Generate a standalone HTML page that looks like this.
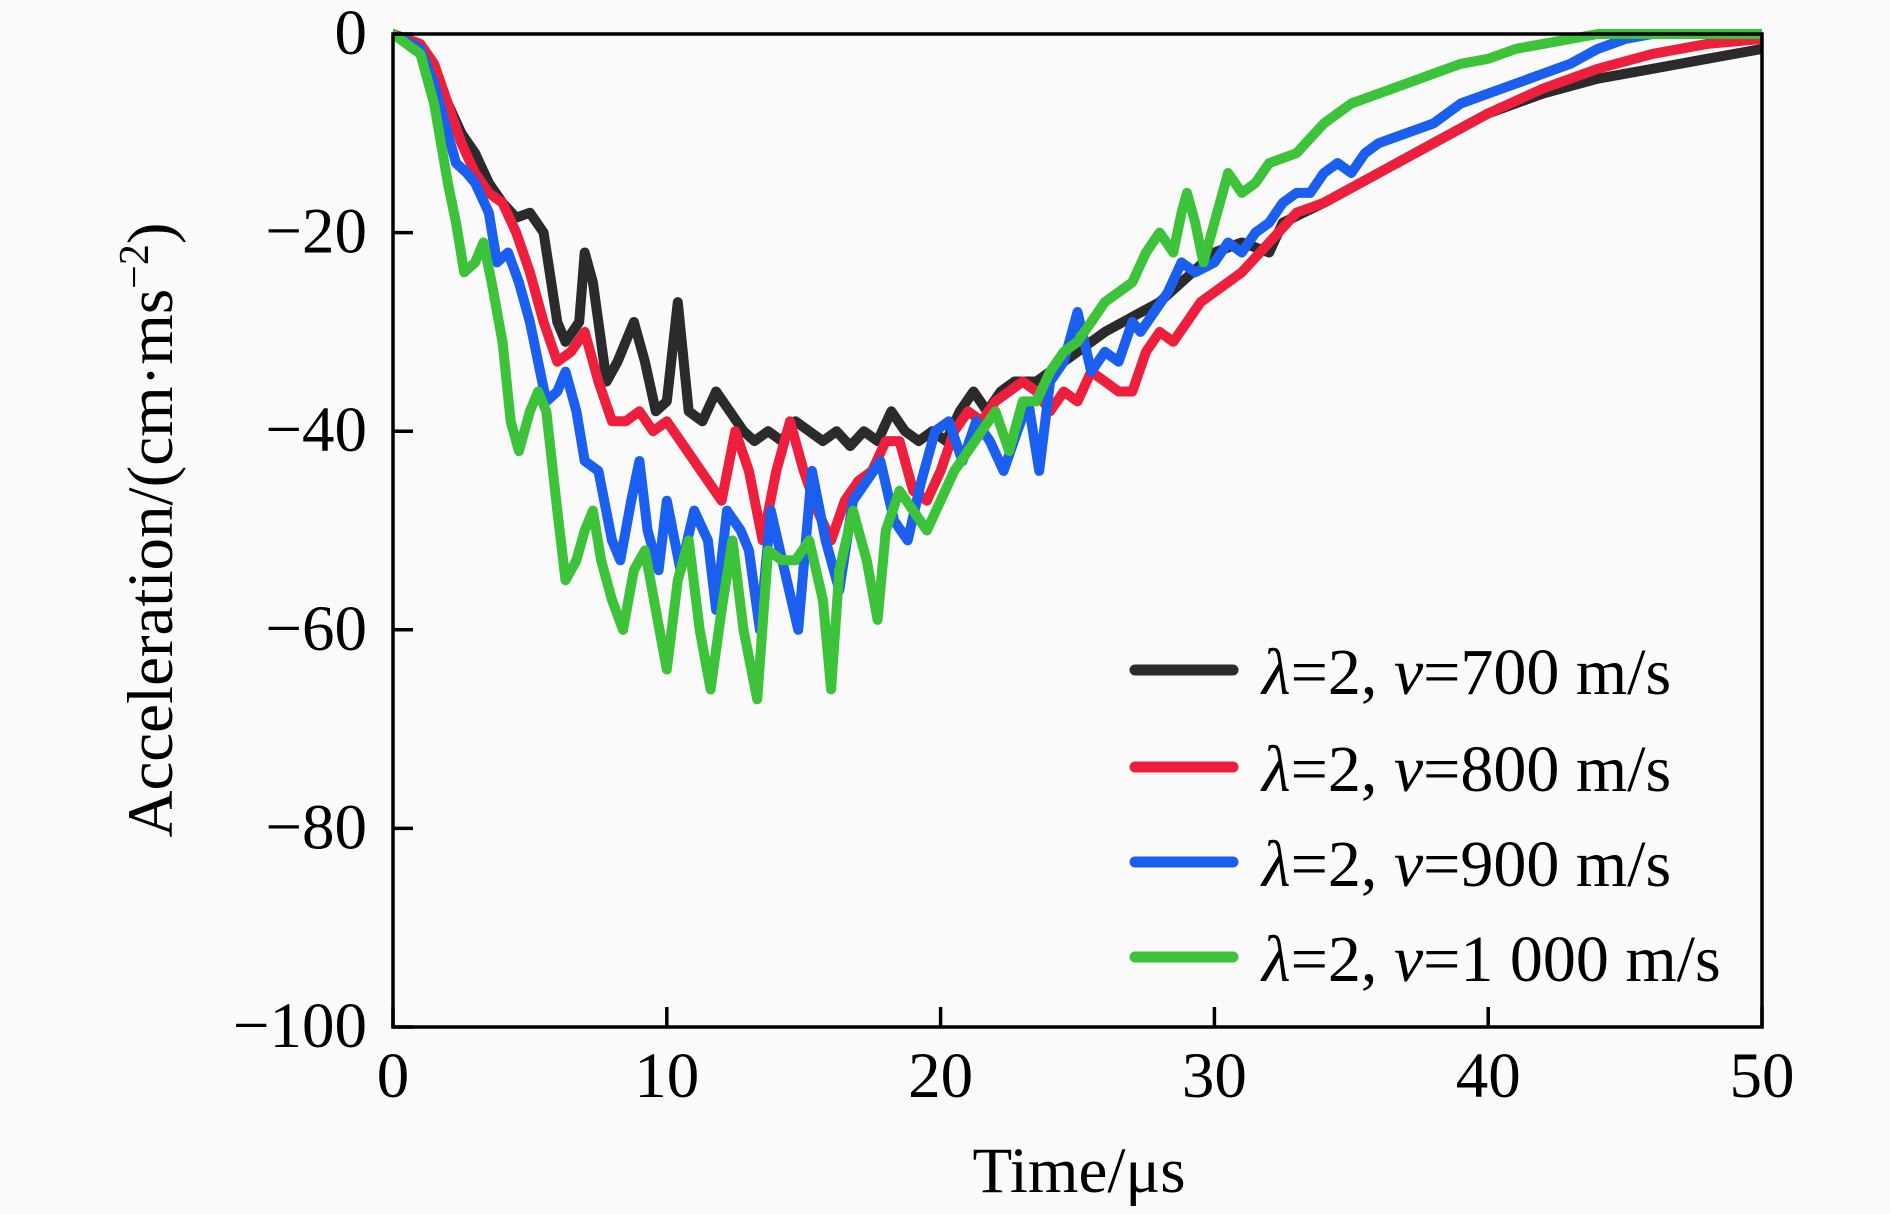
<!DOCTYPE html>
<html><head><meta charset="utf-8"><style>
html,body{margin:0;padding:0;background:#fafafa;}
svg{display:block;font-family:"Liberation Serif",serif;}
</style></head><body>
<svg id="chart" width="1890" height="1214" viewBox="0 0 1890 1214">
<rect x="0" y="0" width="1890" height="1214" fill="#fafafa"/>
<g id="series"></g>
<g id="axes"></g>
<g id="legend"></g>
<text x="1079" y="1192" font-size="65" text-anchor="middle">Time/μs</text>
<text transform="translate(172,530) rotate(-90)" font-size="65" text-anchor="middle">Acceleration/(cm·ms<tspan dy="-24" font-size="42">−2</tspan><tspan dy="24">)</tspan></text>
</svg>
<script>
const xTicks=[0,10,20,30,40,50];
const yTicks=[0,-20,-40,-60,-80,-100];
const seriesNames=["λ=2, v=700 m/s","λ=2, v=800 m/s","λ=2, v=900 m/s","λ=2, v=1 000 m/s"];
const seriesSpeeds=["700","800","900","1 000"];
const seriesColors=["#2b2b2b","#ee1f3c","#1a5ff0","#3cc33a"];
const t700=[0,1,1.5,2,2.5,3,3.5,4,4.5,5,5.5,6,6.3,6.8,7,7.3,7.8,8.2,8.8,9.2,9.6,10,10.4,10.8,11.3,11.8,12.3,12.8,13.2,13.7,14.2,14.7,15.2,15.7,16.2,16.7,17.2,17.7,18.2,18.7,19.2,19.7,20.2,20.7,21.2,21.7,22.2,22.7,23.5,24.5,26,28,30,31,32,32.5,34,36,38,40,42,44,46,48,50];
const a700=[0,-1.5,-4,-7,-10,-12,-15,-17,-18.5,-18,-20,-29,-31,-29,-22,-25,-35,-33,-29,-33,-38,-37,-27,-38,-39,-36,-38,-40,-41,-40,-41,-39,-40,-41,-40,-41.5,-40,-41,-38,-40,-41,-40,-41,-38,-36,-38,-36,-35,-35,-33,-30,-27,-22,-21,-22,-19,-17,-14,-11,-8,-6,-4.5,-3.5,-2.5,-1.5];
const t800=[0,1,1.5,2,2.5,3,3.5,4,4.5,5,5.5,6,6.5,7,7.5,8,8.5,9,9.5,10,10.5,11,11.5,12,12.5,13,13.5,14,14.5,15,15.5,16,16.5,17,17.5,18,18.5,19,19.5,20,20.5,21,21.5,22,22.5,23,23.5,24,24.5,25,25.5,26,26.5,27,27.5,28,28.5,29,29.5,30,31,32,33,34,36,38,40,42,44,46,48,50];
const a800=[0,-1,-3,-7,-11,-14,-16,-17,-20,-24,-29,-33,-32,-30,-35,-39,-39,-38,-40,-39,-41,-43,-45,-47,-40,-44,-51,-44,-39,-44,-48,-51,-47,-45,-44,-41,-41,-46,-47,-44,-40,-38,-39,-37,-36,-35,-36,-38,-36,-37,-34,-35,-36,-36,-32,-30,-31,-29,-27,-26,-24,-21,-18,-17,-14,-11,-8,-5.5,-3.5,-2,-1,-0.5];
const t900=[0,1,1.5,2,2.3,2.7,3,3.5,3.8,4.2,4.6,5,5.3,5.6,6,6.3,6.7,7,7.5,8,8.3,8.7,9,9.3,9.7,10,10.5,11,11.5,11.8,12.2,12.7,13,13.4,13.8,14.3,14.8,15.3,15.8,16.3,16.8,17.3,17.8,18.3,18.8,19.3,19.8,20.3,20.8,21.3,21.8,22.3,22.8,23.2,23.6,24,24.5,25,25.5,26,26.5,27,27.3,27.8,28.3,28.8,29.3,30,30.5,31,31.5,32,32.5,33,33.5,34,34.5,35,35.5,36,37,38,39,40,41,42,43,44,45,46,50];
const a900=[0,-1.5,-5,-10,-13,-14,-15,-18,-23,-22,-25,-29,-33,-37,-36,-34,-38,-43,-44,-51,-53,-47,-43,-50,-54,-47,-54,-48,-51,-58,-48,-50,-52,-60,-48,-54,-60,-44,-51,-56,-47,-45,-43,-49,-51,-45,-40,-39,-43,-39,-41,-44,-40,-37,-44,-35,-33,-28,-34,-32,-33,-29,-30,-28,-26,-23,-24,-23,-21,-22,-20,-19,-17,-16,-16,-14,-13,-14,-12,-11,-10,-9,-7,-6,-5,-4,-3,-1.5,-0.5,0,0];
const t1000=[0,1,1.5,2,2.3,2.6,3,3.3,3.6,4,4.3,4.6,5,5.3,5.6,6,6.3,6.7,7,7.3,7.6,8,8.4,8.8,9.2,9.6,10,10.4,10.8,11.2,11.6,12,12.4,12.8,13.3,13.7,14.2,14.7,15.2,15.7,16,16.3,16.8,17.3,17.7,18,18.5,19,19.5,20,20.5,21,21.5,22,22.5,23,23.5,24,24.5,25,25.5,26,26.5,27,27.5,28,28.5,28.8,29,29.3,29.6,30,30.5,31,31.5,32,33,34,35,36,37,38,39,40,41,42,43,44,50];
const a1000=[0,-2,-7,-15,-19,-24,-23,-21,-25,-31,-39,-42,-38,-36,-38,-48,-55,-53,-50,-48,-53,-57,-60,-54,-52,-58,-64,-55,-51,-60,-66,-58,-51,-60,-67,-52,-53,-53,-51,-57,-66,-54,-48,-53,-59,-50,-46,-48,-50,-47,-44,-42,-40,-38,-42,-37,-37,-34,-32,-31,-29,-27,-26,-25,-22,-20,-22,-18,-16,-19,-23,-19,-14,-16,-15,-13,-12,-9,-7,-6,-5,-4,-3,-2.5,-1.5,-1,-0.5,0,0];
const seriesT=[t700,t800,t900,t1000];
const seriesA=[a700,a800,a900,a1000];

const L=393,R=1762,T=34,B=1027;
const xMin=0,xMax=50,yMin=-100,yMax=0;
function sx(v){return L+(v-xMin)/(xMax-xMin)*(R-L);}
function sy(v){return T+(yMax-v)/(yMax-yMin)*(B-T);}
const NS="http://www.w3.org/2000/svg";
function mk(tag,attrs,parent){const e=document.createElementNS(NS,tag);for(const k in attrs)e.setAttribute(k,attrs[k]);parent.appendChild(e);return e;}
const gS=document.getElementById('series'),gA=document.getElementById('axes'),gL=document.getElementById('legend');
const clip=mk('clipPath',{id:'pc'},document.getElementById('chart'));
mk('rect',{x:L,y:T-6,width:R-L,height:B-T+6},clip);
gS.setAttribute('clip-path','url(#pc)');
for(let s=0;s<seriesT.length;s++){
  const d=seriesT[s].map((t,i)=>(i?'L':'M')+sx(t).toFixed(1)+','+sy(seriesA[s][i]).toFixed(1)).join(' ');
  const p=mk('path',{d:d,fill:'none',stroke:seriesColors[s],'stroke-width':10,'stroke-linejoin':'round','stroke-linecap':'round'},gS);
  
  
}
const frame=mk('rect',{x:L,y:T,width:R-L,height:B-T,fill:'none',stroke:'#000','stroke-width':3.5},gA);


xTicks.forEach(v=>{
  const tk=mk('line',{x1:sx(v),x2:sx(v),y1:B,y2:B-20,stroke:'#000','stroke-width':3.5},gA);
  
  
  const tx=mk('text',{x:sx(v),y:B+70,'font-size':65,'text-anchor':'middle'},gA);
  tx.textContent=String(v);
  
  
});
yTicks.forEach(v=>{
  const tk=mk('line',{x1:L,x2:L+20,y1:sy(v),y2:sy(v),stroke:'#000','stroke-width':3.5},gA);
  
  
  const tx=mk('text',{x:367,y:sy(v)+20,'font-size':65,'text-anchor':'end'},gA);
  tx.textContent=v<0?'−'+Math.abs(v):String(v);
  
  
});
const legY=[670,767,862,957];
seriesNames.forEach((n,i)=>{
  const ln=mk('line',{x1:1135,x2:1233,y1:legY[i],y2:legY[i],stroke:seriesColors[i],'stroke-width':11,'stroke-linecap':'round'},gL);
  
  
  const tx=mk('text',{x:1262,y:legY[i]+24,'font-size':66},gL);
  
  
  const a=mk('tspan',{'font-style':'italic'},tx);a.textContent='λ';
  const b=mk('tspan',{},tx);b.textContent='=2, ';
  const c=mk('tspan',{'font-style':'italic'},tx);c.textContent='v';
  const d=mk('tspan',{},tx);d.textContent='='+seriesSpeeds[i]+' m/s';
});
</script>
</body></html>
